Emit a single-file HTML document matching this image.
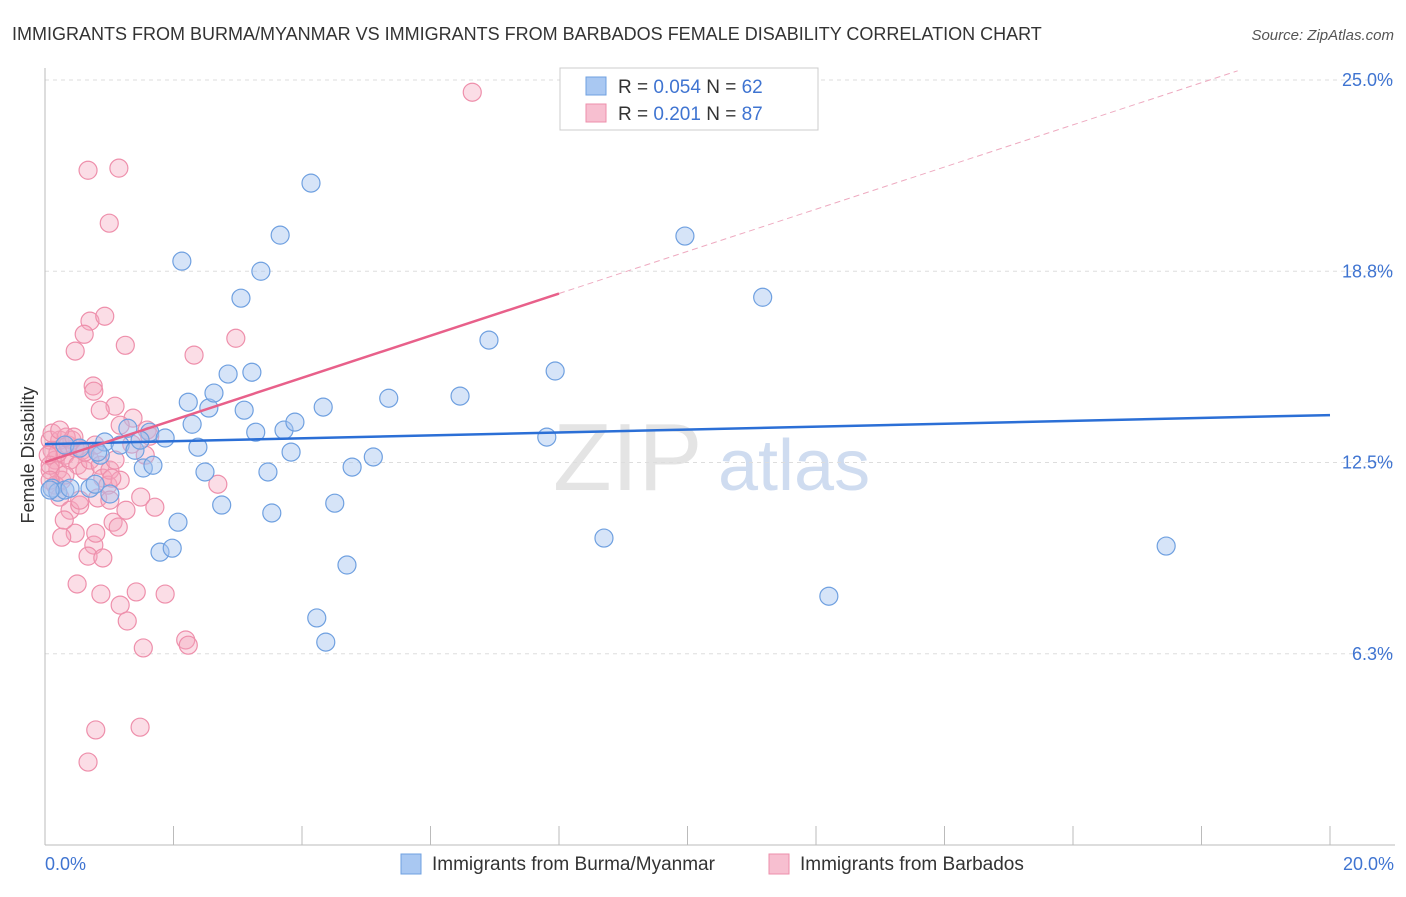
<!DOCTYPE html>
<html><head><meta charset="utf-8"><style>
body{margin:0;background:#fff;font-family:"Liberation Sans",sans-serif;}
svg text{font-family:"Liberation Sans",sans-serif;}
</style></head><body>
<svg id="chart" width="1406" height="892" viewBox="0 0 1406 892">
<text x="12" y="40" font-size="18" fill="#333">IMMIGRANTS FROM BURMA/MYANMAR VS IMMIGRANTS FROM BARBADOS FEMALE DISABILITY CORRELATION CHART</text>
<text x="1394" y="40" font-size="15" fill="#555" font-style="italic" text-anchor="end">Source: ZipAtlas.com</text>
<g>
<text x="553" y="490" font-size="96" fill="#e4e4e4" font-family="Liberation Serif, serif">ZIP</text>
<text x="718" y="490" font-size="72" fill="#cfdcf0">atlas</text>
</g>
<g id="grid"></g>
<g id="axes"></g>
<g id="pts"></g>
<g id="lines"></g>
<text transform="translate(34,455) rotate(-90)" font-size="18" fill="#333" text-anchor="middle">Female Disability</text>
<g>
<rect x="560" y="68" width="258" height="62" fill="#fff" stroke="#ccc"/>
<rect x="586" y="77" width="20" height="18" fill="#a9c8f2" stroke="#6fa0e0"/>
<text x="618" y="93" font-size="19" fill="#333">R = <tspan fill="#3f74d1">0.054</tspan>   N = <tspan fill="#3f74d1">62</tspan></text>
<rect x="586" y="104" width="20" height="18" fill="#f7bfd0" stroke="#ee8fab"/>
<text x="618" y="120" font-size="19" fill="#333">R =  <tspan fill="#3f74d1">0.201</tspan>   N = <tspan fill="#3f74d1">87</tspan></text>
</g>
<g>
<rect x="401" y="854" width="20" height="20" fill="#a9c8f2" stroke="#6fa0e0"/>
<text x="432" y="870" font-size="19" fill="#333">Immigrants from Burma/Myanmar</text>
<rect x="769" y="854" width="20" height="20" fill="#f7bfd0" stroke="#ee8fab"/>
<text x="800" y="870" font-size="19" fill="#333">Immigrants from Barbados</text>
</g>
</svg>
<script>
const yTicks=[25,18.75,12.5,6.25];
const yTickLabels=["25.0%","18.8%","12.5%","6.3%"];
const xTickLabels=["0.0%","20.0%"];
const blueX=[0.11,0.20,0.31,0.39,0.70,1.01,0.86,0.93,1.17,1.29,1.40,1.53,1.63,1.68,1.87,2.07,1.79,1.98,2.13,2.23,2.29,2.38,2.49,2.55,2.63,2.75,2.85,3.10,3.05,3.22,3.28,3.36,3.47,3.53,3.66,3.72,3.83,3.89,4.14,4.23,4.33,4.37,4.51,4.70,4.78,5.11,5.35,6.46,6.91,7.81,7.94,8.70,9.96,11.17,12.20,17.45,0.31,0.54,0.82,1.48,0.08,0.78];
const blueY=[11.66,11.53,11.60,11.66,11.66,11.47,12.74,13.17,13.07,13.62,12.90,12.32,13.49,12.41,13.30,10.55,9.57,9.70,19.08,14.47,13.75,13.00,12.19,14.28,14.77,11.11,15.39,14.21,17.87,15.45,13.49,18.75,12.19,10.85,19.93,13.56,12.84,13.82,21.63,7.42,14.31,6.63,11.17,9.15,12.35,12.68,14.60,14.67,16.50,13.33,15.49,10.03,19.90,17.90,8.13,9.77,13.07,12.97,12.84,13.23,11.60,11.79];
const pinkX=[0.67,1.15,1.00,0.70,0.93,0.47,0.61,1.25,2.32,2.97,0.75,0.76,1.09,1.37,1.59,1.63,6.65,0.08,0.11,0.16,0.20,0.26,0.08,0.23,0.31,0.39,0.42,0.47,0.51,0.58,0.62,0.16,0.31,0.70,0.78,0.86,0.90,0.98,1.01,1.17,0.23,0.39,0.54,0.82,1.04,1.49,1.71,2.69,1.26,1.06,1.14,0.47,0.26,0.76,0.79,0.67,0.90,0.50,0.87,1.17,1.42,1.87,1.28,1.53,2.19,2.23,0.79,1.48,0.67,1.35,0.36,0.20,0.08,0.05,0.11,0.33,0.45,0.62,1.17,1.01,0.54,0.30,0.08,1.09,1.56,0.23,0.86];
const pinkY=[22.05,22.12,20.32,17.12,17.28,16.14,16.69,16.33,16.01,16.56,15.00,14.83,14.34,13.95,13.56,13.36,24.60,13.23,12.90,12.58,12.25,11.92,12.25,13.23,12.74,12.58,13.23,12.97,12.41,12.90,12.25,11.76,12.09,12.58,13.07,12.41,11.99,11.76,12.25,11.92,11.37,10.94,11.11,11.34,11.99,11.37,11.04,11.79,10.94,10.55,10.39,10.19,10.06,9.80,10.19,9.44,9.38,8.53,8.20,7.84,8.27,8.20,7.32,6.44,6.70,6.53,3.76,3.85,2.71,13.10,13.07,12.81,12.41,12.74,13.46,13.33,13.33,12.84,13.72,11.27,11.27,10.62,11.92,12.58,12.74,13.56,14.21];
const blueTrend=[13.10,14.05];
const pinkTrend=[12.51,0.689];
const X=v=>45+v/20*1285;
const Y=v=>845-v/25*765;
const NS="http://www.w3.org/2000/svg";
function mk(tag,attrs,parent){const e=document.createElementNS(NS,tag);for(const k in attrs)e.setAttribute(k,attrs[k]);document.getElementById(parent).appendChild(e);return e;}
yTicks.forEach((t,i)=>{
 const l=mk('line',{x1:45,x2:1395,y1:Y(t),y2:Y(t),stroke:'#ddd','stroke-dasharray':'4,4'},'grid');
 
 
 const tx=mk('text',{x:1393,y:Y(t)+6,'font-size':18,fill:'#3f74d1','text-anchor':'end'},'axes');
 tx.textContent=yTickLabels[i];
 
 
});
const ax=mk('line',{x1:45,x2:45,y1:68,y2:845,stroke:'#bbb'},'axes');


const bx=mk('line',{x1:45,x2:1395,y1:845,y2:845,stroke:'#bbb'},'axes');


for(let k=0;k<=10;k++){
 const t=mk('line',{x1:X(k*2),x2:X(k*2),y1:826,y2:845,stroke:'#bbb'},'axes');
 
 
}
[[0,'start',45],[20,'end',1394]].forEach((d,i)=>{
 const tx=mk('text',{x:d[2],y:870,'font-size':18,fill:'#3f74d1','text-anchor':d[1]},'axes');
 tx.textContent=xTickLabels[i];
 
 
});
pinkX.forEach((v,i)=>{
 const c=mk('circle',{cx:X(v),cy:Y(pinkY[i]),r:9,fill:'rgba(244,166,190,0.38)',stroke:'#ee8fab','stroke-width':1.2},'pts');
 
 
});
blueX.forEach((v,i)=>{
 const c=mk('circle',{cx:X(v),cy:Y(blueY[i]),r:9,fill:'rgba(164,196,240,0.45)',stroke:'#6fa0e0','stroke-width':1.2},'pts');
 
 
});
const bl=mk('line',{x1:X(0),y1:Y(blueTrend[0]),x2:X(20),y2:Y(blueTrend[1]),stroke:'#2b6fd6','stroke-width':2.5},'lines');


const pf=x=>pinkTrend[0]+pinkTrend[1]*x;
const pl=mk('line',{x1:X(0),y1:Y(pf(0)),x2:X(8),y2:Y(pf(8)),stroke:'#e8608a','stroke-width':2.5},'lines');


const xe=(25.3-pinkTrend[0])/pinkTrend[1];
const pd=mk('line',{x1:X(8),y1:Y(pf(8)),x2:X(xe),y2:Y(pf(xe)),stroke:'#eeaac0','stroke-width':1,'stroke-dasharray':'6,4'},'lines');


</script>
</body></html>
